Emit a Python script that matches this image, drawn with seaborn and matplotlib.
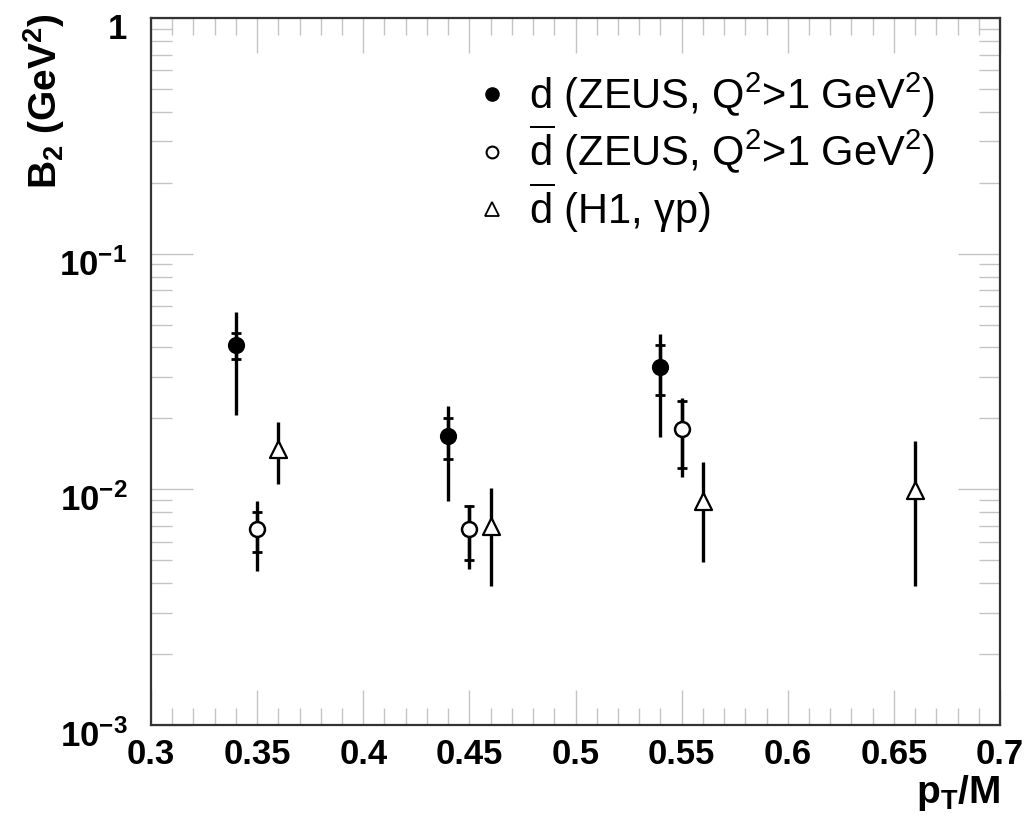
import numpy as np
import pandas as pd
import matplotlib
matplotlib.use("Agg")
import matplotlib.pyplot as plt
import matplotlib.transforms as mtrans
import seaborn as sns
from matplotlib.ticker import FixedLocator, NullFormatter, FixedFormatter, MultipleLocator
from matplotlib.lines import Line2D

# ---- data ----
x_d = [0.34, 0.44, 0.54]
y_d = [0.0409, 0.0169, 0.0331]
d_stat_hi = [0.0462, 0.0200, 0.0410]
d_stat_lo = [0.0356, 0.0135, 0.0251]
d_tot_hi = [0.0564, 0.0226, 0.0456]
d_tot_lo = [0.0207, 0.0089, 0.0167]

x_db = [0.35, 0.45, 0.55]
y_db = [0.0068, 0.0068, 0.0181]
db_stat_hi = [0.0080, 0.0085, 0.0238]
db_stat_lo = [0.0054, 0.0050, 0.0123]
db_tot_hi = [0.0089, 0.0086, 0.0243]
db_tot_lo = [0.0045, 0.0046, 0.0113]

x_h1 = [0.36, 0.46, 0.56, 0.66]
y_h1 = [0.0148, 0.0070, 0.0089, 0.0099]
h1_tot_hi = [0.0194, 0.0101, 0.0131, 0.0160]
h1_tot_lo = [0.0105, 0.0039, 0.0049, 0.0039]

labels = [r"d (ZEUS, Q$^2$>1 GeV$^2$)",
          r"$\overline{\mathrm{d}}$ (ZEUS, Q$^2$>1 GeV$^2$)",
          r"$\overline{\mathrm{d}}$ (H1, γp)"]
x_ticks = [0.3, 0.35, 0.4, 0.45, 0.5, 0.55, 0.6, 0.65, 0.7]
x_tick_labels = ["0.3", "0.35", "0.4", "0.45", "0.5", "0.55", "0.6", "0.65", "0.7"]
y_ticks = [1e-3, 1e-2, 1e-1, 1]
y_tick_labels = [r"$\mathbf{10^{-3}}$", r"$\mathbf{10^{-2}}$", r"$\mathbf{10^{-1}}$", r"$\mathbf{1}$"]

sns.set_theme(style="ticks")
plt.rcParams["font.family"] = ["Liberation Sans", "DejaVu Sans"]
plt.rcParams["mathtext.fontset"] = "custom"
plt.rcParams["mathtext.rm"] = "Liberation Sans"
plt.rcParams["mathtext.it"] = "Liberation Sans:italic"
plt.rcParams["mathtext.bf"] = "Liberation Sans:bold"
plt.rcParams["mathtext.default"] = "regular"
plt.rcParams["text.color"] = "black"
plt.rcParams["axes.labelcolor"] = "black"
plt.rcParams["xtick.labelcolor"] = "black"
plt.rcParams["ytick.labelcolor"] = "black"

fig = plt.figure(figsize=(10.25, 8.27), dpi=100)
ax = fig.add_axes([151/1025, 1-725/827, (1000-151)/1025, (725-18)/827])
ax.set_facecolor("white")

lw = 2.4
def draw_err(x, y, lo, hi, caps):
    y = np.asarray(y); lo = np.asarray(lo); hi = np.asarray(hi)
    ax.errorbar(x, y, yerr=[y - lo, hi - y], fmt="none", ecolor="black",
                elinewidth=lw, capsize=3.5 if caps else 0, capthick=2.0, zorder=2)

draw_err(x_d, y_d, d_tot_lo, d_tot_hi, False)
draw_err(x_d, y_d, d_stat_lo, d_stat_hi, True)
draw_err(x_db, y_db, db_tot_lo, db_tot_hi, False)
draw_err(x_db, y_db, db_stat_lo, db_stat_hi, True)
draw_err(x_h1, y_h1, h1_tot_lo, h1_tot_hi, False)

df_d = pd.DataFrame({"x": x_d, "y": y_d})
df_db = pd.DataFrame({"x": x_db, "y": y_db})
df_h1 = pd.DataFrame({"x": x_h1, "y": y_h1})
sns.scatterplot(data=df_d, x="x", y="y", ax=ax, marker="o", s=125, color="black",
                edgecolor="black", linewidth=1.2, zorder=3, legend=False)
sns.scatterplot(data=df_db, x="x", y="y", ax=ax, marker="o", s=115, color="white",
                edgecolor="black", linewidth=1.8, zorder=3, legend=False)
sns.scatterplot(data=df_h1, x="x", y="y", ax=ax, marker="^", s=150, color="white",
                edgecolor="black", linewidth=1.6, zorder=3, legend=False)

ax.set_yscale("log")
ax.set_xlim(0.3, 0.7)
ax.set_ylim(1e-3, 1)

ax.xaxis.set_major_locator(FixedLocator(x_ticks))
ax.xaxis.set_major_formatter(FixedFormatter(x_tick_labels))
ax.xaxis.set_minor_locator(MultipleLocator(0.01))
ax.yaxis.set_major_locator(FixedLocator(y_ticks))
ax.yaxis.set_major_formatter(FixedFormatter(y_tick_labels))
minors = [m * 10.0**e for e in (-3, -2, -1) for m in range(2, 10)]
ax.yaxis.set_minor_locator(FixedLocator(minors))
ax.yaxis.set_minor_formatter(NullFormatter())

tc = "#c4c4c4"
ax.tick_params(axis="x", which="major", direction="in", length=25, width=1, color=tc,
               top=True, bottom=True, labelsize=25, pad=9, labelcolor="black")
ax.tick_params(axis="x", which="minor", direction="in", length=12.5, width=1, color=tc,
               top=True, bottom=True)
ax.tick_params(axis="y", which="major", direction="in", length=30, width=1, color=tc,
               left=True, right=True, labelsize=25, pad=17, labelcolor="black")
ax.tick_params(axis="y", which="minor", direction="in", length=15, width=1, color=tc,
               left=True, right=True)
for lab in ax.get_xticklabels():
    lab.set_fontweight("bold")
offset = mtrans.ScaledTranslation(0, -8/100, fig.dpi_scale_trans)
for lab in ax.get_yticklabels():
    lab.set_transform(lab.get_transform() + offset)

for sp in ax.spines.values():
    sp.set_color("#333333")
    sp.set_linewidth(1.6)
    sp.set_visible(True)

ax.set_xlabel(r"$\mathbf{p_T/M}$", fontsize=28, loc="right", labelpad=2, color="black")
ax.set_ylabel(r"$\mathbf{B_2\ (GeV^2)}$", fontsize=28, loc="top", color="black")
ax.yaxis.set_label_coords(-0.099, 1.007)

handles = [
    Line2D([], [], ls="none", marker="o", ms=9.5, mfc="black", mec="black"),
    Line2D([], [], ls="none", marker="o", ms=8.5, mfc="white", mec="black", mew=1.5),
    Line2D([], [], ls="none", marker="^", ms=9.5, mfc="white", mec="black", mew=1.3),
]
leg = ax.legend(handles, labels, loc="upper left", bbox_to_anchor=(0.377, 0.926),
                frameon=False, fontsize=30, handletextpad=0.4, labelspacing=0.08,
                handlelength=1.0, borderaxespad=0, borderpad=0)
for t in leg.get_texts():
    t.set_color("black")

fig.savefig("out.png", dpi=100, facecolor="white")
